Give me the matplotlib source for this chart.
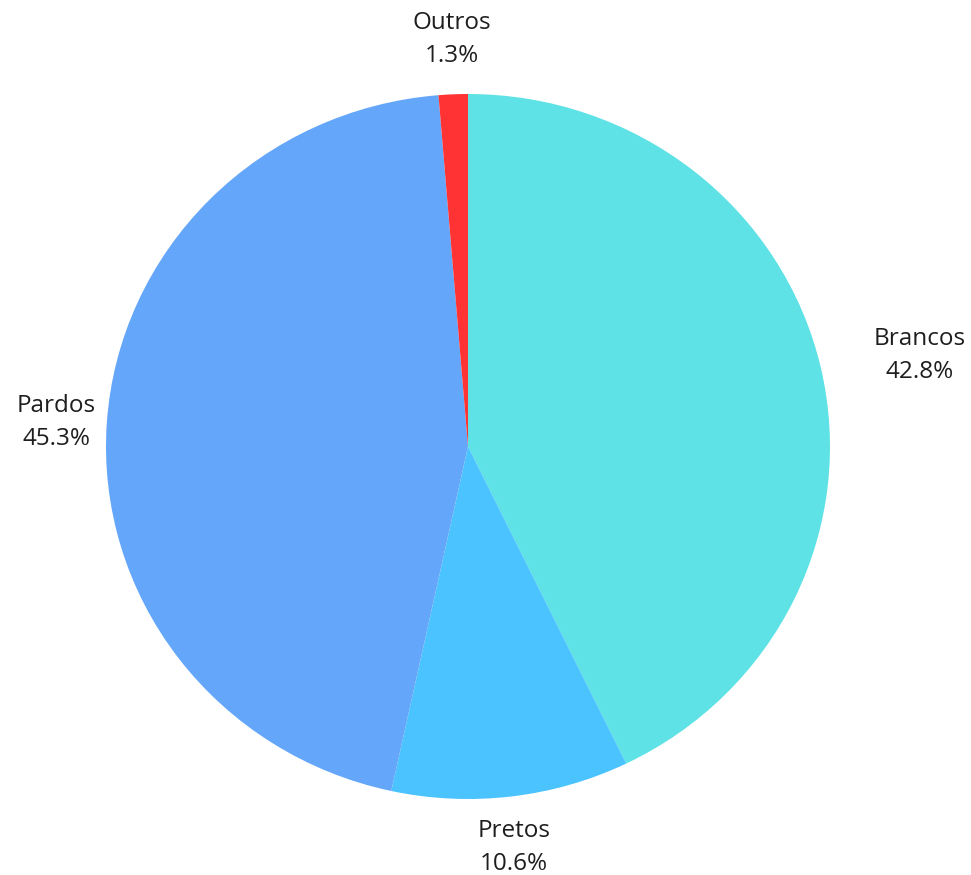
import numpy as np
import matplotlib
matplotlib.use('Agg')
import matplotlib.pyplot as plt

plt.rcParams['font.family'] = ['Open Sans', 'DejaVu Sans']

labels = ['Brancos', 'Pretos', 'Pardos', 'Outros']
shares = [42.8, 10.6, 45.3, 1.3]
colors = ['#5ee2e6', '#4ac3ff', '#64a6fa', '#ff3333']
label_dist = [1.15, 1.065, 1.03, 1.075]

W, H = 971, 875
fig = plt.figure(figsize=(W / 100, H / 100), dpi=100)

# pie box in pixels (left, top, right, bottom)
left, top, right, bottom = 106, 94, 830, 799
ax = fig.add_axes([left / W, 1 - bottom / H, (right - left) / W, (bottom - top) / H])

wedges, _ = ax.pie(shares, colors=colors, startangle=90, counterclock=False,
                   radius=1, wedgeprops=dict(linewidth=0))
ax.set_aspect('auto')
ax.set_xlim(-1, 1)
ax.set_ylim(-1, 1)
ax.axis('off')

for w, lab, val, d in zip(wedges, labels, shares, label_dist):
    ang = np.deg2rad((w.theta1 + w.theta2) / 2)
    c, s = np.cos(ang), np.sin(ang)
    ha = 'center'
    if c > 0.5:
        ha = 'left'
    elif c < -0.5:
        ha = 'right'
    va = 'center'
    if s > 0.5:
        va = 'bottom'
    elif s < -0.5:
        va = 'top'
    ax.text(d * c, d * s, '%s\n%.1f%%' % (lab, val), ha=ha, va=va,
            multialignment='center', fontsize=17.5, color='#1e1e1e',
            linespacing=1.5, clip_on=False)

fig.savefig('out.png', dpi=100)
